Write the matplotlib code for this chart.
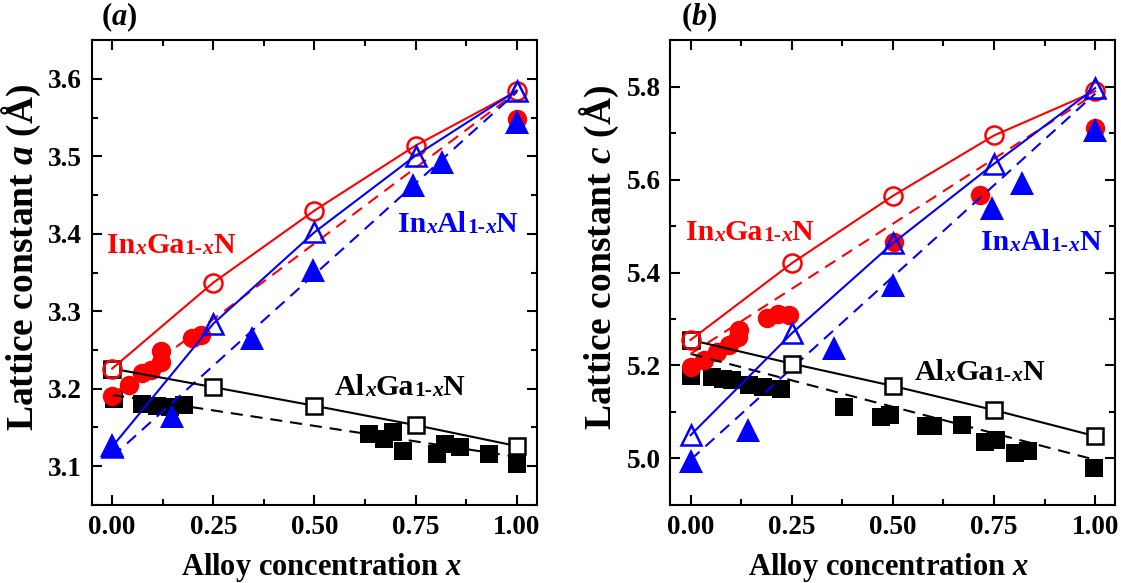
import matplotlib
matplotlib.use("Agg")
import matplotlib.pyplot as plt
from matplotlib.ticker import MultipleLocator, FormatStrFormatter

plt.rcParams['font.family'] = ['Liberation Serif', 'DejaVu Serif']
plt.rcParams['font.weight'] = 'bold'
plt.rcParams['mathtext.fontset'] = 'custom'
plt.rcParams['mathtext.rm'] = 'Liberation Serif:bold'
plt.rcParams['mathtext.bf'] = 'Liberation Serif:bold'
plt.rcParams['mathtext.it'] = 'Liberation Serif:bold:italic'

RED, BLUE, BLACK = '#ff0000', '#0000ff', '#000000'

# ---- calculated values (open symbols, solid lines) ----
x_calc = [0.0, 0.25, 0.50, 0.75, 1.0]
a_ingan_calc = [3.226, 3.337, 3.430, 3.514, 3.584]
a_inaln_calc = [3.125, 3.284, 3.402, 3.501, 3.585]
a_algan_calc = [3.226, 3.202, 3.178, 3.153, 3.126]
c_ingan_calc = [5.255, 5.420, 5.565, 5.695, 5.790]
c_inaln_calc = [5.050, 5.269, 5.463, 5.634, 5.797]
c_algan_calc = [5.255, 5.204, 5.156, 5.104, 5.048]

# ---- experimental values (filled symbols) ----
ingan_x_a = [0.0, 0.042, 0.075, 0.095, 0.12, 0.12, 0.198, 0.219, 1.0]
ingan_a = [3.191, 3.205, 3.220, 3.224, 3.235, 3.249, 3.265, 3.269, 3.548]
inaln_x_a = [0.0, 0.147, 0.346, 0.496, 0.743, 0.815, 1.0]
inaln_a = [3.127, 3.165, 3.265, 3.353, 3.463, 3.493, 3.544]
algan_x_a = [0.0, 0.005, 0.075, 0.112, 0.144, 0.178, 0.634, 0.671, 0.695,
             0.720, 0.802, 0.823, 0.860, 0.932, 1.0]
algan_a = [3.224, 3.187, 3.180, 3.178, 3.177, 3.179, 3.142, 3.135, 3.144,
           3.120, 3.116, 3.129, 3.125, 3.116, 3.103]

ingan_x_c = [0.0, 0.033, 0.066, 0.095, 0.116, 0.12, 0.19, 0.215, 0.244,
             0.504, 0.715, 1.0]
ingan_c = [5.197, 5.212, 5.230, 5.244, 5.262, 5.276, 5.303, 5.311, 5.308,
           5.466, 5.567, 5.712]
inaln_x_c = [0.0, 0.143, 0.355, 0.50, 0.746, 0.82, 1.0]
inaln_c = [4.994, 5.061, 5.237, 5.373, 5.538, 5.593, 5.707]
algan_x_c = [0.0, 0.0, 0.054, 0.080, 0.103, 0.145, 0.178, 0.223, 0.380,
             0.471, 0.492, 0.583, 0.600, 0.670, 0.727, 0.756, 0.802, 0.835,
             0.997]
algan_c = [5.253, 5.177, 5.176, 5.171, 5.169, 5.158, 5.154, 5.150, 5.111,
           5.090, 5.093, 5.070, 5.069, 5.072, 5.035, 5.039, 5.012, 5.015,
           4.980]

# ---- Vegard's law end members (dashed lines) ----
x_ends = [0.0, 1.0]
vegard_a = {'GaN': 3.192, 'AlN': 3.112, 'InN': 3.583}
vegard_c = {'GaN': 5.225, 'AlN': 4.997, 'InN': 5.785}


def rich_label(ax, x, y, runs, color, size=21.5):
    """Bold serif label built from runs of (text, relative size, style)."""
    prev = None
    for s, rel, style in runs:
        kw = dict(fontsize=size * rel, fontweight='bold', fontstyle=style,
                  color=color, family='Liberation Serif')
        if prev is None:
            prev = ax.text(x, y, s, va='baseline', ha='left', **kw)
        else:
            prev = ax.annotate(s, xy=(1, 0), xycoords=prev, va='bottom',
                               ha='left', **kw)


def alloy_runs(a, b):
    return [(a, 1, 'normal'), ('x', 0.72, 'italic'), (b, 1, 'normal'),
            ('1-', 0.72, 'normal'), ('x', 0.72, 'italic'), ('N', 1, 'normal')]


def draw_panel(ax, ingan_x, ingan_y, inaln_x, inaln_y, algan_x, algan_y,
               ingan_calc, inaln_calc, algan_calc, veg):
    dash = (5.8, 3.8)
    # experimental
    ax.plot(algan_x, algan_y, 's', color=BLACK, ms=13, mew=0, zorder=2)
    ax.plot(ingan_x, ingan_y, 'o', color=RED, ms=14, mew=0, zorder=2)
    ax.plot(inaln_x, inaln_y, '^', color=BLUE, ms=17, mew=0, zorder=2)
    # Vegard's law
    ax.plot(x_ends, [veg['GaN'], veg['AlN']], ls=(0, dash), color=BLACK, lw=1.5, zorder=3)
    ax.plot(x_ends, [veg['GaN'], veg['InN']], ls=(0, dash), color=RED, lw=1.5, zorder=3)
    ax.plot(x_ends, [veg['AlN'], veg['InN']], ls=(0, dash), color=BLUE, lw=1.5, zorder=3)
    # calculated
    ax.plot(x_calc, algan_calc, '-s', color=BLACK, lw=1.5, ms=11, mfc='white',
            mew=1.8, zorder=4)
    ax.plot(x_calc, ingan_calc, '-o', color=RED, lw=1.5, ms=13, mfc='none',
            mew=1.8, zorder=4)
    ax.plot(x_calc, inaln_calc, '-^', color=BLUE, lw=1.5, ms=15, mfc='none',
            mew=1.8, zorder=5)

    ax.set_xlim(-0.05, 1.05)
    ax.xaxis.set_major_locator(MultipleLocator(0.25))
    ax.xaxis.set_minor_locator(MultipleLocator(0.125))
    ax.xaxis.set_major_formatter(FormatStrFormatter('%.2f'))
    ax.tick_params(which='both', direction='in', top=True, right=True,
                   width=1.5, labelsize=19.5)
    ax.tick_params(which='major', length=7, pad=7)
    ax.tick_params(which='minor', length=4.5)
    for sp in ax.spines.values():
        sp.set_linewidth(1.5)
    ax.set_xlabel(r'Alloy concentration $\mathit{x}$', fontsize=22,
                  fontweight='bold')


fig = plt.figure(figsize=(11.21, 5.83), dpi=100)
axa = fig.add_axes([0.082, 0.134, 0.397, 0.797])
axb = fig.add_axes([0.598, 0.134, 0.397, 0.797])

draw_panel(axa, ingan_x_a, ingan_a, inaln_x_a, inaln_a, algan_x_a, algan_a,
           a_ingan_calc, a_inaln_calc, a_algan_calc, vegard_a)
draw_panel(axb, ingan_x_c, ingan_c, inaln_x_c, inaln_c, algan_x_c, algan_c,
           c_ingan_calc, c_inaln_calc, c_algan_calc, vegard_c)

axa.set_ylim(3.05, 3.65)
axa.yaxis.set_major_locator(MultipleLocator(0.1))
axa.yaxis.set_minor_locator(MultipleLocator(0.05))
axa.yaxis.set_major_formatter(FormatStrFormatter('%.1f'))
axa.set_ylabel(r'Lattice constant $\mathit{a}$ (Å)', fontsize=27, fontweight='bold')

axb.set_ylim(4.9, 5.9)
axb.yaxis.set_major_locator(MultipleLocator(0.2))
axb.yaxis.set_minor_locator(MultipleLocator(0.1))
axb.yaxis.set_major_formatter(FormatStrFormatter('%.1f'))
axb.set_ylabel(r'Lattice constant $\mathit{c}$ (Å)', fontsize=27, fontweight='bold')

axa.yaxis.set_label_coords(-0.11, 0.533)
axb.yaxis.set_label_coords(-0.11, 0.533)
axa.xaxis.set_label_coords(0.515, -0.10)
axb.xaxis.set_label_coords(0.49, -0.10)

# compound labels
rich_label(axa, -0.012, 3.375, alloy_runs('In', 'Ga'), RED)
rich_label(axa, 0.707, 3.402, alloy_runs('In', 'Al'), BLUE)
rich_label(axa, 0.551, 3.192, alloy_runs('Al', 'Ga'), BLACK)
rich_label(axb, -0.012, 5.470, alloy_runs('In', 'Ga'), RED)
rich_label(axb, 0.719, 5.448, alloy_runs('In', 'Al'), BLUE)
rich_label(axb, 0.553, 5.169, alloy_runs('Al', 'Ga'), BLACK)

fig.text(119 / 1121, 1 - 17 / 583, r'($\mathit{a}$)', fontsize=22,
         fontweight='bold', ha='center', va='center')
fig.text(699 / 1121, 1 - 17 / 583, r'($\mathit{b}$)', fontsize=22,
         fontweight='bold', ha='center', va='center')

fig.savefig('out.png', dpi=100)
